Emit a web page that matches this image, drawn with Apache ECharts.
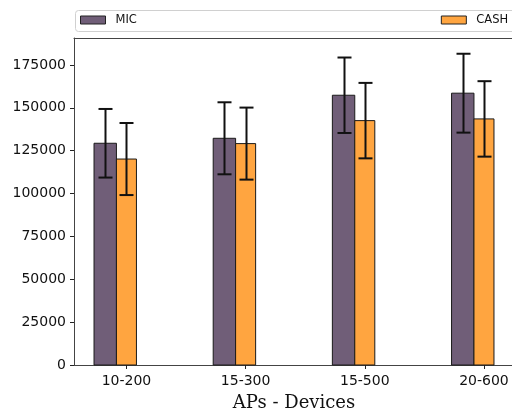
<!DOCTYPE html>
<html>
<head>
<meta charset="utf-8">
<script src="https://cdn.jsdelivr.net/npm/echarts@6/dist/echarts.min.js"></script>
<style>html,body{margin:0;padding:0;background:#fff}#c{width:512px;height:412px}</style>
</head>
<body>
<div id="c"></div>
<script>
const categories = ['10-200', '15-300', '15-500', '20-600'];
const micValues = [129300, 132200, 157300, 158500];
const micErrors = [20000, 21000, 22000, 23000];
const cashValues = [120100, 129100, 142500, 143500];
const cashErrors = [21000, 21000, 22000, 22000];
const yTicks = [0, 25000, 50000, 75000, 100000, 125000, 150000, 175000];

const MIC_COLOR = '#705e78';
const CASH_COLOR = '#ffa540';
// bar geometry in axis units (relative to category index)
const MIC_OFF = -0.178, MIC_W = 0.188;
const CASH_OFF = 0.0, CASH_W = 0.168;

function makeRender(width, color) {
  return function (params, api) {
    const x = api.value(0), y = api.value(1), e = api.value(2);
    const pTop = api.coord([x - width / 2, y]);
    const pBot = api.coord([x + width / 2, 0]);
    const eTop = api.coord([x, y + e]);
    const eBot = api.coord([x, y - e]);
    const cap = 7;
    const cx = Math.round(eTop[0]) + 0.5;
    return {
      type: 'group',
      children: [
        { type: 'rect', shape: { x: pTop[0], y: pTop[1], width: pBot[0] - pTop[0], height: pBot[1] - pTop[1] },
          style: { fill: color, stroke: '#1a1a1a', lineWidth: 1 } },
        { type: 'line', shape: { x1: cx, y1: eTop[1], x2: cx, y2: eBot[1] }, style: { stroke: '#111', lineWidth: 2 }, z2: 10 },
        { type: 'line', shape: { x1: cx - cap, y1: eTop[1], x2: cx + cap, y2: eTop[1] }, style: { stroke: '#111', lineWidth: 2 }, z2: 10 },
        { type: 'line', shape: { x1: cx - cap, y1: eBot[1], x2: cx + cap, y2: eBot[1] }, style: { stroke: '#111', lineWidth: 2 }, z2: 10 }
      ]
    };
  };
}

const micData = categories.map((c, i) => [i + MIC_OFF, micValues[i], micErrors[i]]);
const cashData = categories.map((c, i) => [i + CASH_OFF, cashValues[i], cashErrors[i]]);

const chart = echarts.init(document.getElementById('c'), null, { renderer: 'canvas' });
chart.setOption({
  animation: false,
  backgroundColor: '#fff',
  textStyle: { fontFamily: 'DejaVu Sans' },
  grid: { left: 74, right: -2, top: 38, bottom: 47, show: false, containLabel: false, outerBoundsMode: 'none' },
  graphic: [{
    type: 'rect', left: 75, top: 10, z: 100,
    shape: { width: 460, height: 21, r: 3 },
    style: { fill: '#fff', stroke: '#d0d0d0', lineWidth: 1 }
  }],
  legend: {
    left: 80, top: 14, z: 110, padding: 0,
    itemWidth: 25, itemHeight: 8, itemGap: 304,
    icon: 'rect',
    textStyle: { fontSize: 11.5, color: '#111', padding: [0, 0, 0, 5] },
    itemStyle: { borderColor: '#222', borderWidth: 1 },
    data: ['MIC', 'CASH']
  },
  xAxis: [{
    type: 'value', min: -0.44, max: 3.252,
    splitLine: { show: false },
    axisLine: { show: true, onZero: false, lineStyle: { color: '#444', width: 1 } },
    axisTick: { show: true, length: 4, customValues: [0, 1, 2, 3], lineStyle: { color: '#222' } },
    axisLabel: { customValues: [0, 1, 2, 3], formatter: v => categories[Math.round(v)], fontSize: 14, color: '#111', margin: 9 },
    name: 'APs - Devices', nameLocation: 'middle', nameGap: 29,
    nameTextStyle: { fontFamily: 'DejaVu Serif', fontSize: 18, color: '#111' }
  }, {
    type: 'value', position: 'top', min: -0.44, max: 3.252,
    splitLine: { show: false },
    axisLine: { show: true, onZero: false, lineStyle: { color: '#444', width: 1 } },
    axisTick: { show: false }, axisLabel: { show: false }
  }],
  yAxis: {
    type: 'value', min: 0, max: 190680,
    splitLine: { show: false },
    axisLine: { show: true, onZero: false, lineStyle: { color: '#444', width: 1 } },
    axisTick: { show: true, length: 4, customValues: yTicks, lineStyle: { color: '#222' } },
    axisLabel: { customValues: yTicks, formatter: v => String(v), fontSize: 14, color: '#111', margin: 8 }
  },
  series: [
    { name: 'MIC', type: 'custom', itemStyle: { color: MIC_COLOR }, encode: { x: 0, y: 1 }, data: micData, renderItem: makeRender(MIC_W, MIC_COLOR), clip: false },
    { name: 'CASH', type: 'custom', itemStyle: { color: CASH_COLOR }, encode: { x: 0, y: 1 }, data: cashData, renderItem: makeRender(CASH_W, CASH_COLOR), clip: false }
  ]
});
</script>
</body>
</html>
